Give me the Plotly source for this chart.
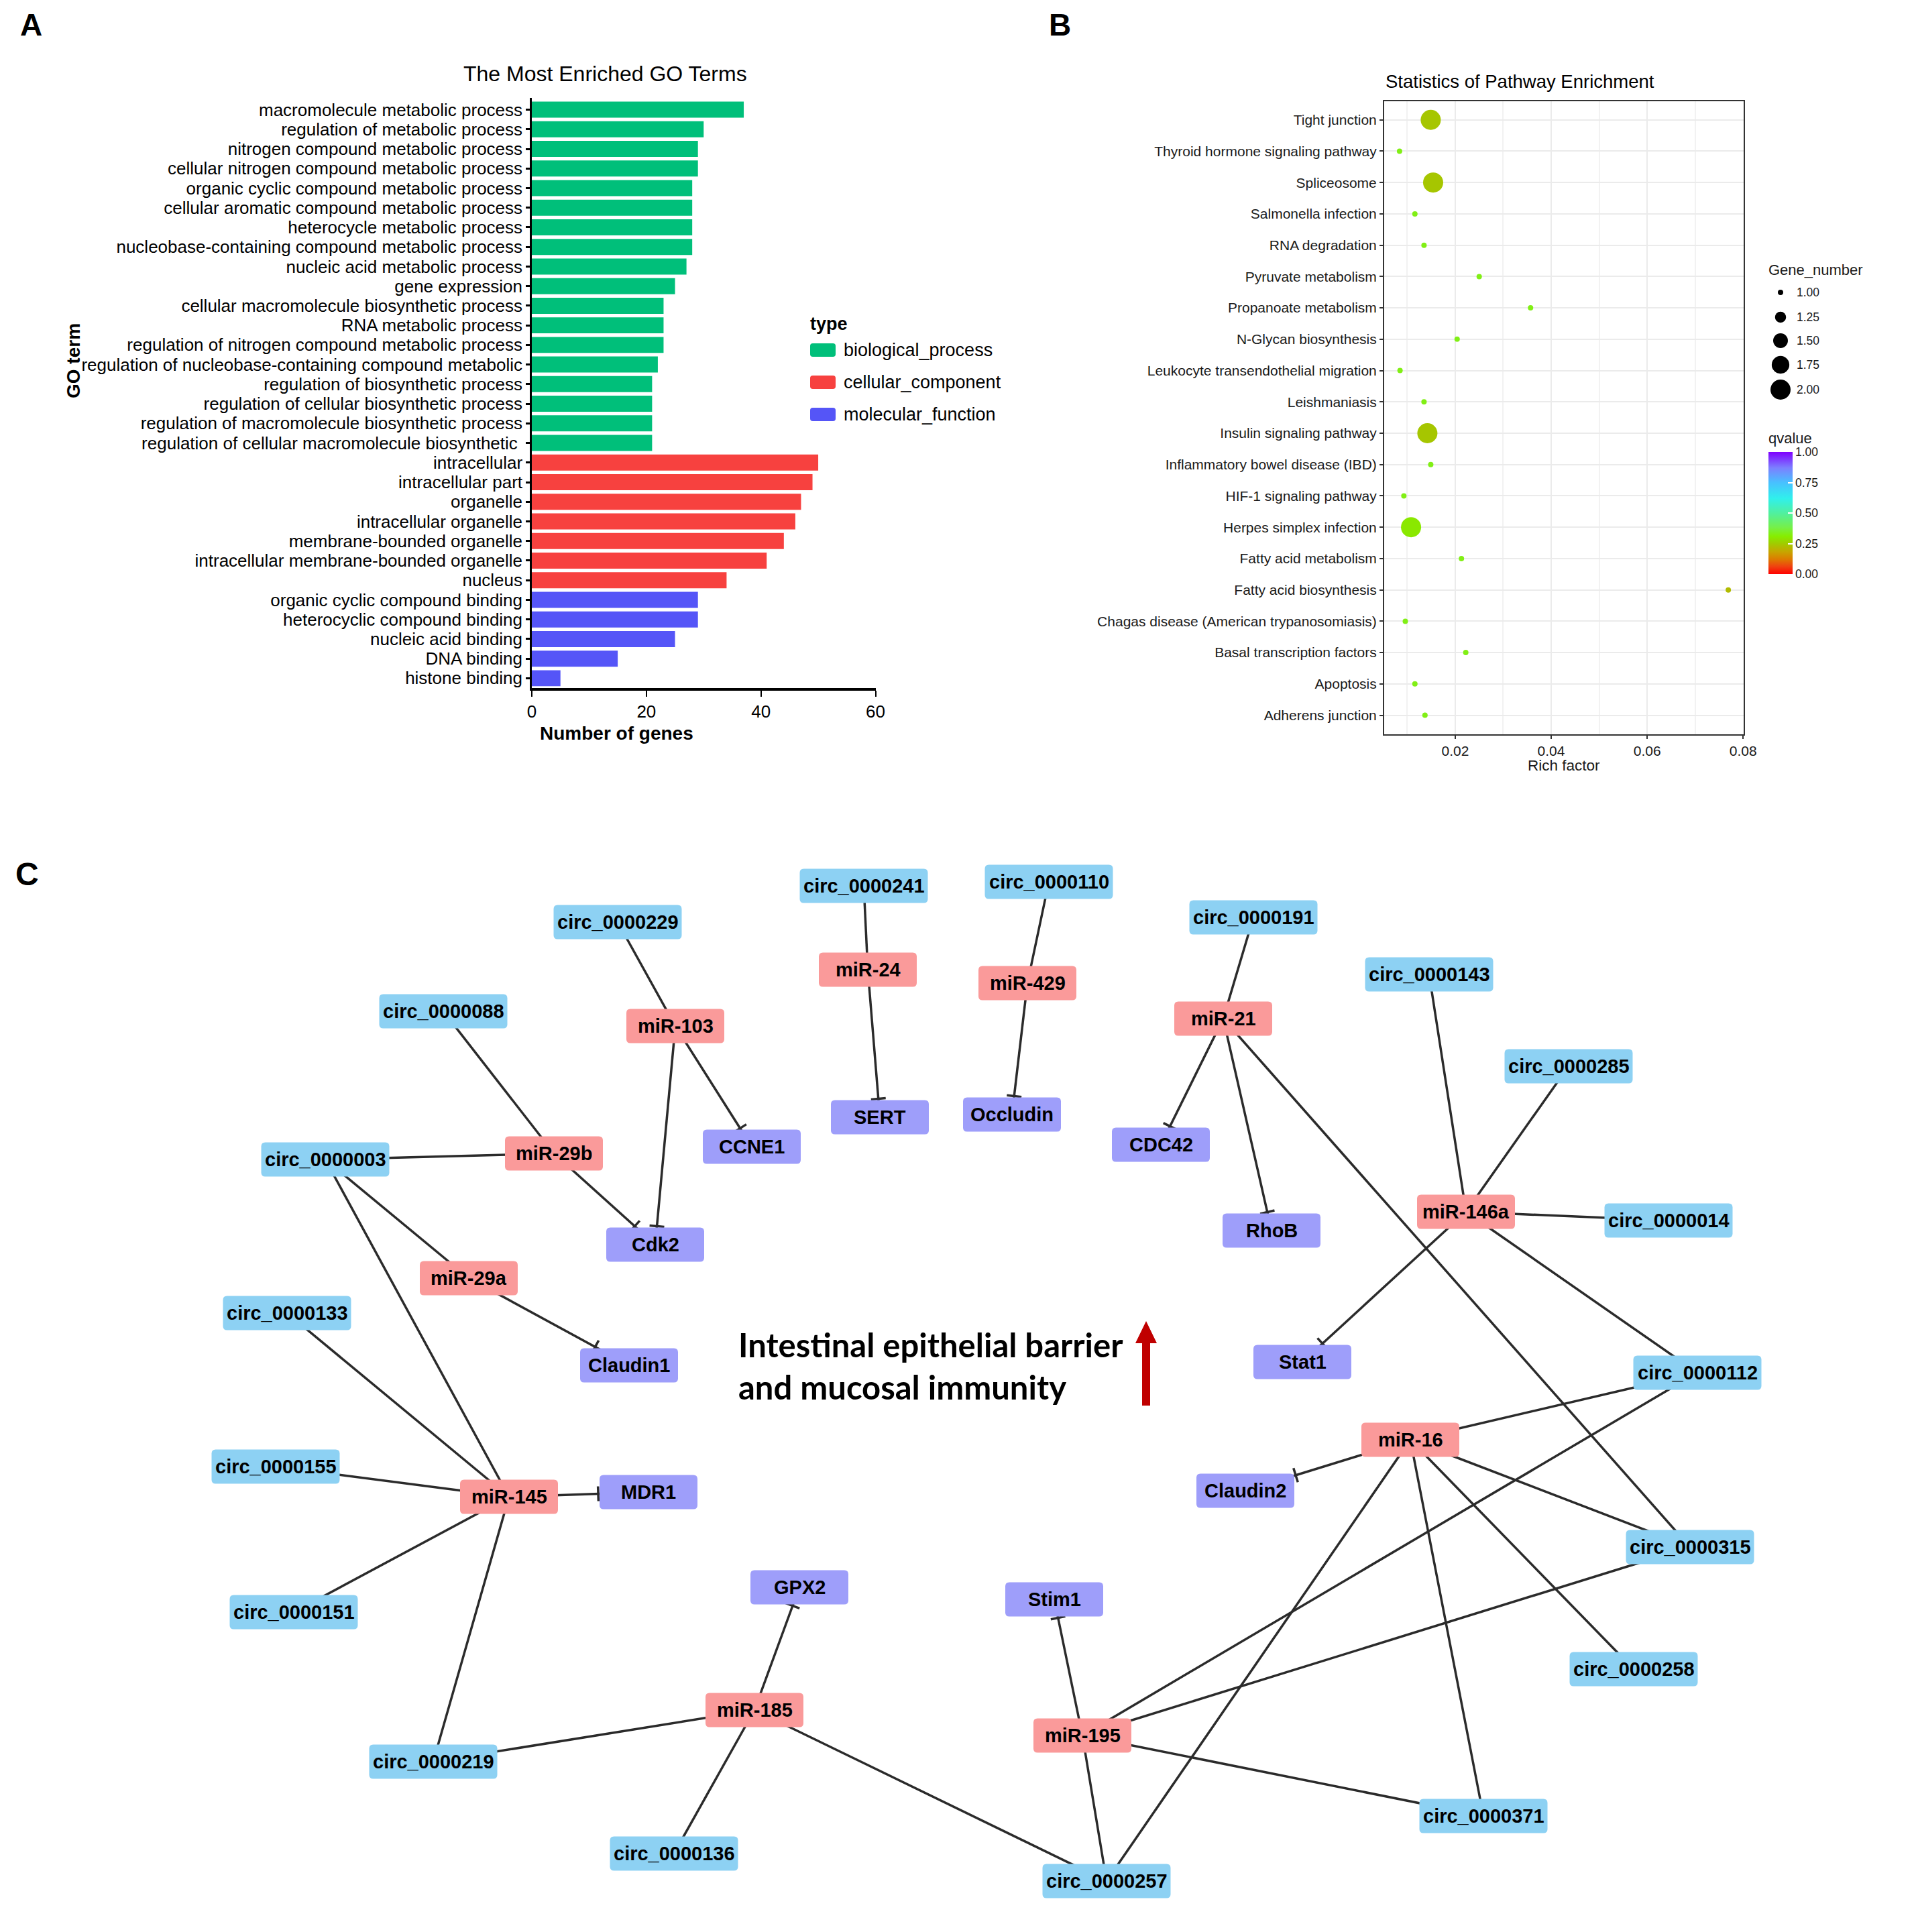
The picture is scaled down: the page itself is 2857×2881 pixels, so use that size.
import plotly.graph_objects as go
import numpy as np

W, H = 2857, 2881
FONT = "Liberation Sans, Arial, Helvetica, sans-serif"

# ---------------- Panel A data ----------------
go_terms = [
    "macromolecule metabolic process",
    "regulation of metabolic process",
    "nitrogen compound metabolic process",
    "cellular nitrogen compound metabolic process",
    "organic cyclic compound metabolic process",
    "cellular aromatic compound metabolic process",
    "heterocycle metabolic process",
    "nucleobase-containing compound metabolic process",
    "nucleic acid metabolic process",
    "gene expression",
    "cellular macromolecule biosynthetic process",
    "RNA metabolic process",
    "regulation of nitrogen compound metabolic process",
    "regulation of nucleobase-containing compound metabolic",
    "regulation of biosynthetic process",
    "regulation of cellular biosynthetic process",
    "regulation of macromolecule biosynthetic process",
    "regulation of cellular macromolecule biosynthetic ",
    "intracellular",
    "intracellular part",
    "organelle",
    "intracellular organelle",
    "membrane-bounded organelle",
    "intracellular membrane-bounded organelle",
    "nucleus",
    "organic cyclic compound binding",
    "heterocyclic compound binding",
    "nucleic acid binding",
    "DNA binding",
    "histone binding",
]
go_counts = [37, 30, 29, 29, 28, 28, 28, 28, 27, 25, 23, 23, 23, 22, 21, 21, 21, 21,
             50, 49, 47, 46, 44, 41, 34,
             29, 29, 25, 15, 5]
go_types = (["biological_process"] * 18 + ["cellular_component"] * 7 +
            ["molecular_function"] * 5)
type_names = ["biological_process", "cellular_component", "molecular_function"]
go_ticks = [0, 20, 40, 60]

# ---------------- Panel B data ----------------
pathways = [
    "Tight junction",
    "Thyroid hormone signaling pathway",
    "Spliceosome",
    "Salmonella infection",
    "RNA degradation",
    "Pyruvate metabolism",
    "Propanoate metabolism",
    "N-Glycan biosynthesis",
    "Leukocyte transendothelial migration",
    "Leishmaniasis",
    "Insulin signaling pathway",
    "Inflammatory bowel disease (IBD)",
    "HIF-1 signaling pathway",
    "Herpes simplex infection",
    "Fatty acid metabolism",
    "Fatty acid biosynthesis",
    "Chagas disease (American trypanosomiasis)",
    "Basal transcription factors",
    "Apoptosis",
    "Adherens junction",
]
rich_factor = [0.0149, 0.0084, 0.0154, 0.0116, 0.0135, 0.0250, 0.0357, 0.0204,
               0.0085, 0.0135, 0.0142, 0.0149, 0.0093, 0.0108, 0.0213, 0.0769,
               0.0096, 0.0222, 0.0116, 0.0137]
gene_number = [2, 1, 2, 1, 1, 1, 1, 1, 1, 1, 2, 1, 1, 2, 1, 1, 1, 1, 1, 1]
qvalue = [0.24, 0.33, 0.24, 0.33, 0.33, 0.33, 0.33, 0.33, 0.33, 0.33,
          0.24, 0.33, 0.33, 0.30, 0.33, 0.22, 0.33, 0.33, 0.33, 0.33]
rich_ticks = [0.02, 0.04, 0.06, 0.08]
rich_minor = [0.01, 0.03, 0.05, 0.07]
size_legend_values = [1.00, 1.25, 1.50, 1.75, 2.00]
qvalue_ticks = [0.0, 0.25, 0.50, 0.75, 1.00]

# ---------------- Panel C data ----------------
node_names = [
    "circ_0000241", "circ_0000229", "miR-24", "circ_0000088", "miR-103", "SERT",
    "CCNE1", "circ_0000003", "miR-29b", "Cdk2", "miR-29a", "circ_0000133",
    "Claudin1", "circ_0000110", "miR-429", "circ_0000191", "miR-21",
    "circ_0000143", "Occludin", "CDC42", "circ_0000285", "RhoB", "miR-146a",
    "circ_0000014", "Stat1", "circ_0000112", "circ_0000155", "miR-145", "MDR1",
    "circ_0000151", "GPX2", "miR-185", "circ_0000219", "circ_0000136", "miR-16",
    "Claudin2", "circ_0000315", "Stim1", "circ_0000258", "miR-195",
    "circ_0000371", "circ_0000257",
]
edges = [
    ("circ_0000229", "miR-103", "bind"), ("miR-103", "CCNE1", "inhibit"),
    ("miR-103", "Cdk2", "inhibit"),
    ("circ_0000241", "miR-24", "bind"), ("miR-24", "SERT", "inhibit"),
    ("circ_0000110", "miR-429", "bind"), ("miR-429", "Occludin", "inhibit"),
    ("circ_0000191", "miR-21", "bind"), ("miR-21", "CDC42", "inhibit"),
    ("miR-21", "RhoB", "inhibit"), ("miR-21", "circ_0000315", "bind"),
    ("circ_0000088", "miR-29b", "bind"), ("circ_0000003", "miR-29b", "bind"),
    ("miR-29b", "Cdk2", "inhibit"),
    ("circ_0000003", "miR-29a", "bind"), ("miR-29a", "Claudin1", "inhibit"),
    ("circ_0000003", "miR-145", "bind"), ("circ_0000133", "miR-145", "bind"),
    ("circ_0000155", "miR-145", "bind"), ("circ_0000151", "miR-145", "bind"),
    ("circ_0000219", "miR-145", "bind"), ("miR-145", "MDR1", "inhibit"),
    ("circ_0000143", "miR-146a", "bind"), ("circ_0000285", "miR-146a", "bind"),
    ("circ_0000014", "miR-146a", "bind"), ("miR-146a", "Stat1", "inhibit"),
    ("miR-146a", "circ_0000112", "bind"),
    ("circ_0000112", "miR-16", "bind"), ("miR-16", "Claudin2", "inhibit"),
    ("miR-16", "circ_0000315", "bind"), ("miR-16", "circ_0000258", "bind"),
    ("miR-16", "circ_0000371", "bind"), ("miR-16", "circ_0000257", "bind"),
    ("circ_0000112", "miR-195", "bind"), ("circ_0000315", "miR-195", "bind"),
    ("miR-195", "Stim1", "inhibit"), ("miR-195", "circ_0000371", "bind"),
    ("miR-195", "circ_0000257", "bind"),
    ("circ_0000219", "miR-185", "bind"), ("miR-185", "GPX2", "inhibit"),
    ("circ_0000136", "miR-185", "bind"), ("miR-185", "circ_0000257", "bind"),
]
center_text = ["Intestinal epithelial barrier", "and mucosal immunity"]

# ---------------- Layout (pixel geometry of the page) ----------------
node_layout = {
    "circ_0000241": (1288, 1321), "circ_0000229": (921, 1375), "miR-24": (1294, 1446),
    "circ_0000088": (661, 1508), "miR-103": (1007, 1530), "SERT": (1312, 1666),
    "CCNE1": (1121, 1710), "circ_0000003": (485, 1729), "miR-29b": (826, 1720),
    "Cdk2": (977, 1856), "miR-29a": (699, 1906), "circ_0000133": (428, 1958),
    "Claudin1": (938, 2036), "circ_0000110": (1564, 1315), "miR-429": (1532, 1466),
    "circ_0000191": (1869, 1368), "miR-21": (1824, 1519), "circ_0000143": (2131, 1453),
    "Occludin": (1509, 1662), "CDC42": (1731, 1707), "circ_0000285": (2339, 1590),
    "RhoB": (1896, 1835), "miR-146a": (2186, 1807), "circ_0000014": (2488, 1820),
    "Stat1": (1942, 2031), "circ_0000112": (2531, 2047), "circ_0000155": (411, 2187),
    "miR-145": (759, 2232), "MDR1": (967, 2225), "circ_0000151": (438, 2404),
    "GPX2": (1192, 2367), "miR-185": (1125, 2550), "circ_0000219": (646, 2627),
    "circ_0000136": (1005, 2764), "miR-16": (2103, 2147), "Claudin2": (1857, 2223),
    "circ_0000315": (2520, 2307), "Stim1": (1572, 2385), "circ_0000258": (2436, 2489),
    "miR-195": (1614, 2588), "circ_0000371": (2212, 2708), "circ_0000257": (1650, 2805),
}


def node_kind(n):
    if n.startswith("circ"):
        return "circ"
    if n.startswith("miR"):
        return "mir"
    return "target"


box_size = {"circ": (191, 51), "mir": (146, 51), "target": (146, 51)}
box_color = {"circ": "#8DD1F3", "mir": "#FA9A9A", "target": "#9E9EFA"}
type_colors = {"biological_process": "#00BF7A", "cellular_component": "#F7413F",
               "molecular_function": "#5555F7"}

A_x = (793, 1305.5)
A_y = (146, 1026)
B_x = (2064, 2600)
B_y = (150.7, 1094.6)


def dom_x(p):
    return [p[0] / W, p[1] / W]


def dom_y(p):
    return [1 - p[1] / H, 1 - p[0] / H]


qscale = [[0.0, "#FF0000"], [0.06, "#F04010"], [0.12, "#DD7A00"], [0.18, "#C8A400"],
          [0.25, "#A0CC00"], [0.31, "#86EE00"], [0.38, "#76F048"], [0.5, "#50F0A0"],
          [0.62, "#30F0EC"], [0.75, "#48C0FF"], [0.87, "#7C80FF"], [1.0, "#8000FF"]]


def diam(g):
    return float(np.sqrt(8 ** 2 + (g - 1.0) * (30 ** 2 - 8 ** 2)))


fig = go.Figure()

# ---- Panel A bars
for t in type_names:
    idx = [i for i, tt in enumerate(go_types) if tt == t]
    fig.add_trace(go.Bar(
        x=[go_counts[i] for i in idx], y=[go_terms[i] for i in idx],
        orientation="h", marker=dict(color=type_colors[t], line=dict(width=0)),
        width=0.82, xaxis="x", yaxis="y", showlegend=False, name=t))

# ---- Panel B dots
fig.add_trace(go.Scatter(
    x=rich_factor, y=pathways, mode="markers", xaxis="x2", yaxis="y2",
    showlegend=False,
    marker=dict(size=[diam(g) for g in gene_number], color=qvalue,
                colorscale=qscale, cmin=0, cmax=1, opacity=1, line=dict(width=0),
                showscale=True,
                colorbar=dict(x=2637 / W, xanchor="left", xpad=0, ypad=0,
                              y=1 - 765 / H, yanchor="middle",
                              len=182, lenmode="pixels", thickness=36,
                              outlinewidth=0, ticks="inside", ticklen=7,
                              tickwidth=2, tickcolor="white",
                              tickvals=qvalue_ticks,
                              ticktext=["%.2f" % v for v in qvalue_ticks],
                              tickfont=dict(family=FONT, size=17.5, color="#1a1a1a")))))

# ---- Panel B size legend
size_leg_y = [436, 473, 508, 544, 581]
fig.add_trace(go.Scatter(
    x=[2655] * len(size_legend_values), y=size_leg_y, mode="markers",
    xaxis="x3", yaxis="y3", showlegend=False,
    marker=dict(size=[diam(v) for v in size_legend_values], color="black",
                opacity=1, line=dict(width=0))))

# ---- Panel C edges
ex, ey, tx_, ty_ = [], [], [], []
for s, t, k in edges:
    (x0, y0), (x1, y1) = node_layout[s], node_layout[t]
    ex += [x0, x1, None]
    ey += [y0, y1, None]
    if k == "inhibit":
        w, h = box_size[node_kind(t)]
        dx, dy = x0 - x1, y0 - y1
        gap = 2
        kx = (w / 2 + gap) / abs(dx) if dx != 0 else np.inf
        ky = (h / 2 + gap) / abs(dy) if dy != 0 else np.inf
        kk = min(kx, ky)
        px, py = x1 + kk * dx, y1 + kk * dy
        L = np.hypot(dx, dy)
        nx, ny = -dy / L, dx / L
        half = 11
        tx_ += [px - nx * half, px + nx * half, None]
        ty_ += [py - ny * half, py + ny * half, None]

fig.add_trace(go.Scatter(x=ex, y=ey, mode="lines", xaxis="x3", yaxis="y3",
                         line=dict(color="#2b2b2b", width=3.5), showlegend=False,
                         hoverinfo="skip"))
fig.add_trace(go.Scatter(x=tx_, y=ty_, mode="lines", xaxis="x3", yaxis="y3",
                         line=dict(color="#2b2b2b", width=3.5), showlegend=False,
                         hoverinfo="skip"))


def rrect(x0, y0, x1, y1, r):
    return (f"M{x0+r},{y0} L{x1-r},{y0} Q{x1},{y0} {x1},{y0+r} L{x1},{y1-r} "
            f"Q{x1},{y1} {x1-r},{y1} L{x0+r},{y1} Q{x0},{y1} {x0},{y1-r} "
            f"L{x0},{y0+r} Q{x0},{y0} {x0+r},{y0} Z")


shapes = []
annotations = []

for n in node_names:
    cx, cy = node_layout[n]
    kd = node_kind(n)
    w, h = box_size[kd]
    shapes.append(dict(type="path", xref="x3", yref="y3",
                       path=rrect(cx - w / 2, cy - h / 2, cx + w / 2, cy + h / 2, 6),
                       fillcolor=box_color[kd], line=dict(width=0), layer="above"))
    annotations.append(dict(x=cx, y=cy, xref="x3", yref="y3", text="<b>%s</b>" % n,
                            showarrow=False, xanchor="center", yanchor="middle",
                            font=dict(family=FONT, size=29, color="black")))

# red arrow
shapes.append(dict(type="path", xref="x3", yref="y3",
                   path="M1703,2096 L1715,2096 L1715,2003 L1725,2003 L1709,1970 L1693,2003 L1703,2003 Z",
                   fillcolor="#C00000", line=dict(width=0), layer="above"))

# centre text
for txt, yy in zip(center_text, [2005, 2068]):
    annotations.append(dict(x=1099, y=yy, xref="x3", yref="y3", text="<b>%s</b>" % txt,
                            showarrow=False, xanchor="left", yanchor="middle",
                            font=dict(family="Lato, Carlito, Calibri, sans-serif",
                                      size=49, color="black")))

# Panel A legend (manual)
annotations.append(dict(x=1206, y=483, xref="x3", yref="y3", text="<b>type</b>",
                        showarrow=False, xanchor="left", yanchor="middle",
                        font=dict(family=FONT, size=27, color="black")))
for t, yy in zip(type_names, [522, 570, 618]):
    shapes.append(dict(type="path", xref="x3", yref="y3",
                       path=rrect(1208, yy - 10, 1246, yy + 10, 4),
                       fillcolor=type_colors[t], line=dict(width=0), layer="above"))
    annotations.append(dict(x=1256, y=yy, xref="x3", yref="y3", text=t,
                            showarrow=False, xanchor="left", yanchor="middle",
                            font=dict(family=FONT, size=27, color="black")))

# Panel A titles
annotations += [
    dict(x=902, y=110, xref="x3", yref="y3", text="The Most Enriched GO Terms",
         showarrow=False, font=dict(family=FONT, size=32, color="black")),
    dict(x=109, y=538, xref="x3", yref="y3", text="<b>GO term</b>", textangle=-90,
         showarrow=False, font=dict(family=FONT, size=28, color="black")),
    dict(x=919, y=1093, xref="x3", yref="y3", text="<b>Number of genes</b>",
         showarrow=False, font=dict(family=FONT, size=28, color="black")),
]

# Panel B titles / legend titles
annotations += [
    dict(x=2266, y=121, xref="x3", yref="y3", text="Statistics of Pathway Enrichment",
         showarrow=False, font=dict(family=FONT, size=27.5, color="black")),
    dict(x=2332, y=1141, xref="x3", yref="y3", text="Rich factor",
         showarrow=False, font=dict(family=FONT, size=22.5, color="#1a1a1a")),
    dict(x=2635, y=402, xref="x3", yref="y3", text="Gene_number", xanchor="left",
         showarrow=False, font=dict(family=FONT, size=22, color="#1a1a1a")),
    dict(x=2635, y=653, xref="x3", yref="y3", text="qvalue", xanchor="left",
         showarrow=False, font=dict(family=FONT, size=22, color="#1a1a1a")),
]
for v, yy in zip(size_legend_values, size_leg_y):
    annotations.append(dict(x=2677, y=yy, xref="x3", yref="y3", text="%.2f" % v,
                            xanchor="left", showarrow=False,
                            font=dict(family=FONT, size=17.5, color="#1a1a1a")))

# Panel letters
for letter, (lx, ly, fs) in {"A": (46, 37, 46), "B": (1580, 37, 46), "C": (40, 1303, 48)}.items():
    annotations.append(dict(x=lx, y=ly, xref="x3", yref="y3", text="<b>%s</b>" % letter,
                            showarrow=False, font=dict(family=FONT, size=fs, color="black")))

fig.update_layout(
    template="none",
    width=W, height=H, autosize=False,
    margin=dict(l=0, r=0, t=0, b=0, pad=0, autoexpand=False),
    paper_bgcolor="white", plot_bgcolor="rgba(0,0,0,0)",
    barmode="overlay", hovermode=False, showlegend=False,
    font=dict(family=FONT, color="black"),
    xaxis=dict(domain=dom_x(A_x), anchor="y", range=[0, 60], tickvals=go_ticks,
               automargin=False,
               ticks="outside", ticklen=9, tickwidth=2, tickcolor="black",
               showline=True, linewidth=4, linecolor="black", showgrid=False,
               zeroline=False, tickfont=dict(family=FONT, size=26, color="black")),
    yaxis=dict(domain=dom_y(A_y), anchor="x", type="category", automargin=False,
               categoryorder="array", categoryarray=go_terms, range=[29.5, -0.6],
               tickmode="array", tickvals=go_terms, ticktext=go_terms,
               ticks="outside", ticklen=6, tickwidth=3, tickcolor="black",
               showline=True, linewidth=2.5, linecolor="black", showgrid=False,
               zeroline=False, tickfont=dict(family=FONT, size=26, color="black")),
    xaxis2=dict(domain=dom_x(B_x), anchor="y2", range=[0.0052, 0.0801],
                automargin=False,
                tickvals=rich_ticks, ticktext=["%.2f" % v for v in rich_ticks],
                ticks="outside", ticklen=5, tickwidth=1.5, tickcolor="#333333",
                showline=True, mirror=True, linewidth=2, linecolor="#333333",
                showgrid=True, gridcolor="#EBEBEB", gridwidth=2, zeroline=False,
                minor=dict(tickvals=rich_minor, showgrid=True, gridcolor="#F2F2F2",
                           gridwidth=1.5),
                tickfont=dict(family=FONT, size=21, color="#1a1a1a")),
    yaxis2=dict(domain=dom_y(B_y), anchor="x2", type="category", automargin=False,
                categoryorder="array", categoryarray=pathways, range=[19.6, -0.6],
                tickmode="array", tickvals=pathways, ticktext=pathways,
                ticks="outside", ticklen=5, tickwidth=1.5, tickcolor="#333333",
                showline=True, mirror=True, linewidth=2, linecolor="#333333",
                showgrid=True, gridcolor="#EBEBEB", gridwidth=2, zeroline=False,
                tickfont=dict(family=FONT, size=21, color="#1a1a1a")),
    xaxis3=dict(domain=[0, 1], anchor="y3", range=[0, W], visible=False,
                automargin=False, fixedrange=True),
    yaxis3=dict(domain=[0, 1], anchor="x3", range=[H, 0], visible=False,
                automargin=False, fixedrange=True),
    shapes=shapes, annotations=annotations,
)

fig.write_html(
    "out.html", include_plotlyjs=True,
    config={"displayModeBar": False, "responsive": False},
    default_width="%dpx" % W, default_height="%dpx" % H,
    post_script=("document.body.style.margin='0';document.body.style.padding='0';"
                 "document.body.style.overflow='hidden';"
                 "var gd=document.getElementById('{plot_id}');"
                 "Plotly.relayout(gd,{width:%d,height:%d});" % (W, H)))
